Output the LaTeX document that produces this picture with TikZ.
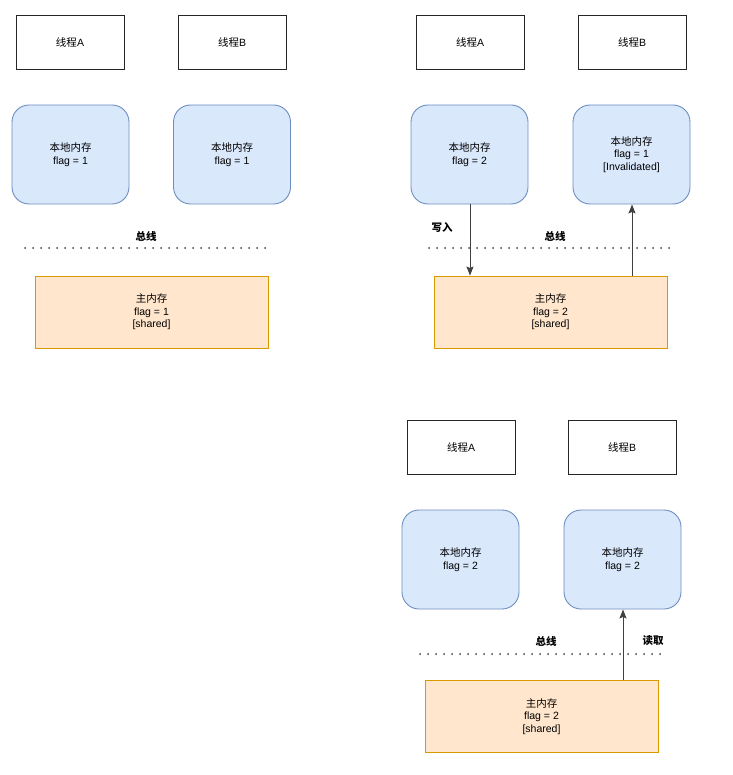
\documentclass[tikz,border=0pt]{standalone}
\usepackage{fontspec}
\setmainfont{Liberation Sans}
\newfontfamily\cjk{Noto Sans CJK SC}
\usetikzlibrary{arrows.meta}
\definecolor{bluefill}{HTML}{DAE8FC}
\definecolor{bluedraw}{HTML}{6C8EBF}
\definecolor{orfill}{HTML}{FFE6CC}
\definecolor{ordraw}{HTML}{D79B00}
\begin{document}
\begin{tikzpicture}[x=1pt,y=-1pt,
  txt/.style={font=\fontsize{10.5}{12.5}\selectfont,align=center},
  thread/.style={draw=black!85,line width=0.9pt,fill=white,minimum width=108pt,minimum height=54pt,txt},
  localmem/.style={draw=bluedraw,fill=bluefill,line width=0.9pt,rounded corners=17pt,minimum width=117pt,minimum height=99pt,txt},
  mainmem/.style={draw=ordraw,fill=orfill,line width=0.9pt,minimum width=233pt,minimum height=72pt,txt},
  bus/.style={black!75,line width=2pt,dash pattern=on 0pt off 8pt,line cap=round},
  lbl/.style={font=\fontsize{10.5}{12.5}\selectfont\cjk\bfseries},
  conn/.style={draw=black!75,line width=0.9pt,-{Stealth[length=9pt,width=7pt,inset=1.5pt]}}]
\useasboundingbox (0,0) rectangle (732,775);
% ---------- panel 1 ----------
\node[thread] (t1a) at (70,42) {{\cjk 线程}A};
\node[thread] (t1b) at (232,42) {{\cjk 线程}B};
\node[localmem] (l1a) at (70.5,154.5) {{\cjk 本地内存}\\flag = 1};
\node[localmem] (l1b) at (232,154.5) {{\cjk 本地内存}\\flag = 1};
\node[lbl] (bus1l) at (146,236) {总线};
\coordinate (bus1s) at (25,248);
\coordinate (bus1e) at (265,248);
\draw[bus] (bus1s) -- (bus1e);
\node[mainmem] (m1) at (151.5,312) {{\cjk 主内存}\\flag = 1\\{[}shared{]}};
% ---------- panel 2 ----------
\node[thread] (t2a) at (470,42) {{\cjk 线程}A};
\node[thread] (t2b) at (632,42) {{\cjk 线程}B};
\node[localmem] (l2a) at (469.5,154.5) {{\cjk 本地内存}\\flag = 2};
\node[localmem] (l2b) at (631.5,154.5) {{\cjk 本地内存}\\flag = 1\\{[}Invalidated{]}};
\node[lbl] (w2) at (442,227) {写入};
\node[lbl] (bus2l) at (555,236) {总线};
\coordinate (bus2s) at (429,248);
\coordinate (bus2e) at (669,248);
\draw[bus] (bus2s) -- (bus2e);
\node[mainmem] (m2) at (550.5,312) {{\cjk 主内存}\\flag = 2\\{[}shared{]}};
\draw[conn] (l2a.south -| 470,0) -- (m2.north -| 470,0);
\draw[conn] (m2.north -| 632,0) -- (l2b.south -| 632,0);
% ---------- panel 3 ----------
\node[thread] (t3a) at (461,447) {{\cjk 线程}A};
\node[thread] (t3b) at (622,447) {{\cjk 线程}B};
\node[localmem] (l3a) at (460.5,559.5) {{\cjk 本地内存}\\flag = 2};
\node[localmem] (l3b) at (622.5,559.5) {{\cjk 本地内存}\\flag = 2};
\node[lbl] (bus3l) at (546,641) {总线};
\node[lbl] (r3) at (653,641) {读取};
\coordinate (bus3s) at (420,654);
\coordinate (bus3e) at (660,654);
\draw[bus] (bus3s) -- (bus3e);
\node[mainmem] (m3) at (541.5,716.5) {{\cjk 主内存}\\flag = 2\\{[}shared{]}};
\draw[conn] (m3.north -| 623,0) -- (l3b.south -| 623,0);
\end{tikzpicture}
\end{document}
